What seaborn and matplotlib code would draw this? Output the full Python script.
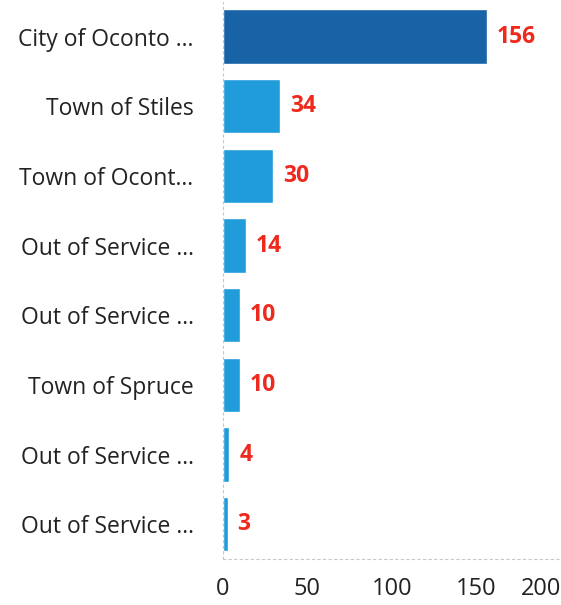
import matplotlib
matplotlib.use("Agg")
import matplotlib.pyplot as plt
import seaborn as sns
import pandas as pd

categories = ["City of Oconto ...", "Town of Stiles", "Town of Ocont...", "Out of Service ...",
              "Out of Service ...", "Town of Spruce", "Out of Service ...", "Out of Service ..."]
values = [156, 34, 30, 14, 10, 10, 4, 3]
xticks = [0, 50, 100, 150, 200]

sns.set_theme(style="white")
plt.rcParams['font.family'] = ['Open Sans', 'DejaVu Sans']

df = pd.DataFrame({"cat": [f"{i}" for i in range(len(categories))], "val": values})
colors = ["#1763a6"] + ["#209cdb"] * (len(values) - 1)

fig = plt.figure(figsize=(5.61, 6.05), dpi=100)
ax = fig.add_axes([0.397, 0.076, 0.603, 0.921])
sns.barplot(data=df, x="val", y="cat", hue="cat", palette=colors, legend=False,
            width=0.78, ax=ax, saturation=1)

ax.set_xlim(0, 200)
ax.set_xticks(xticks)
ax.set_xticklabels([str(t) for t in xticks], fontsize=17, color="#222222")
ax.get_xticklabels()[-1].set_horizontalalignment("right")
ax.set_yticks(range(len(categories)))
ax.set_yticklabels(categories, fontsize=16.5, color="#222222")
ax.set_xlabel("")
ax.set_ylabel("")
ax.tick_params(axis="y", length=0, pad=21)
ax.tick_params(axis="x", length=6, color="#b0b0b0", pad=7, width=0.8)

for s in ["top", "right"]:
    ax.spines[s].set_visible(False)
for s in ["left", "bottom"]:
    ax.spines[s].set_color("#c8c8c8")
    ax.spines[s].set_linestyle((0, (2, 3)))
    ax.spines[s].set_linewidth(0.8)

for i, v in enumerate(values):
    ax.annotate(str(v), xy=(v, i), xytext=(7, 0), textcoords="offset points",
                ha="left", va="center", fontsize=16.5, fontweight="bold", color="#ee2a1e")

fig.savefig("out.png", dpi=100)
